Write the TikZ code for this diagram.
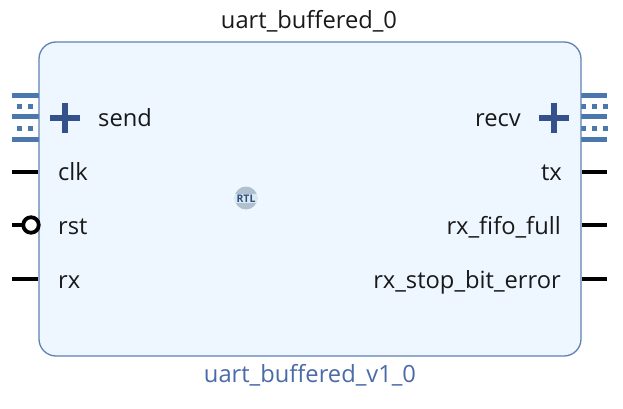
\documentclass[tikz,border=0pt]{standalone}
\usepackage{fontspec}
\setmainfont{Open Sans}
\definecolor{boxfill}{HTML}{EEF7FF}
\definecolor{boxline}{HTML}{5F82B4}
\definecolor{ifblue}{HTML}{4A77AC}
\definecolor{plusblue}{HTML}{34518C}
\definecolor{txtblue}{HTML}{4A6BA8}
\definecolor{rtlgrey}{HTML}{AFC0CF}
\definecolor{rtlband}{HTML}{DCE9F2}
\definecolor{rtltext}{HTML}{2F4F7F}
\tikzset{
  pinline/.style={line width=4.8pt,black},
  portlabel/.style={font=\fontsize{23.7pt}{26pt}\selectfont,text=black!90,inner sep=0pt},
  plusbar/.style={line width=5.6pt,plusblue},
}
\newcommand{\ifbars}[2]{%
  \foreach \yy in {93,114,137}{\fill[ifblue] (#1,\yy+0.3) rectangle (#2,\yy+5.2);}
}
\begin{document}
\begin{tikzpicture}[x=1pt,y=-1pt]
\useasboundingbox (0,0) rectangle (623,409);
\fill[white] (0,0) rectangle (623,409);
\node[portlabel] (title) at (309,21) {uart\_buffered\_0};
\node[portlabel,text=txtblue] (sub) at (310,375.5) {uart\_buffered\_v1\_0};
\ifbars{12}{39}
\foreach \yy in {104,126}\foreach \xx in {17,28}{\fill[ifblue] (\xx,\yy) rectangle (\xx+5,\yy+5);}
\ifbars{581}{607}
\foreach \yy in {104,126}\foreach \xx in {581,592,603}{\fill[ifblue] (\xx,\yy) rectangle (\xx+5,\yy+5);}
\coordinate (clkE) at (12,172); \coordinate (rstE) at (12,225); \coordinate (rxE) at (12,279);
\coordinate (txE) at (607,172); \coordinate (fullE) at (607,225); \coordinate (errE) at (607,279);
\node[draw=boxline,fill=boxfill,line width=1.3pt,rounded corners=17pt,minimum width=542pt,minimum height=314pt,inner sep=0pt] (block) at (310,199) {};
\coordinate (clkB) at (block.west |- clkE); \coordinate (rstB) at (24,225); \coordinate (rxB) at (block.west |- rxE);
\coordinate (txB) at (block.east |- txE); \coordinate (fullB) at (block.east |- fullE); \coordinate (errB) at (block.east |- errE);
\draw[pinline] (clkE) -- (clkB);
\draw[pinline] (rstE) -- (rstB);
\draw[pinline] (rxE) -- (rxB);
\draw[pinline] (txE) -- (txB);
\draw[pinline] (fullE) -- (fullB);
\draw[pinline] (errE) -- (errB);
\node[circle,draw=black,fill=white,line width=3.8pt,minimum size=15.5pt,inner sep=0pt] (rstc) at (31,225) {};
\draw[plusbar] (50,118) -- (80,118); \draw[plusbar] (65,103) -- (65,133);
\draw[plusbar] (539,118) -- (569,118); \draw[plusbar] (554,103) -- (554,133);
\node[portlabel,anchor=base west] (send) at (98,126) {send};
\node[portlabel,anchor=base west] (clk) at (58,180.5) {clk};
\node[portlabel,anchor=base west] (rst) at (58,234.5) {rst};
\node[portlabel,anchor=base west] (rx) at (58,288.5) {rx};
\node[portlabel,anchor=base east] (recv) at (521,126) {recv};
\node[portlabel,anchor=base east] (tx) at (562,180.5) {tx};
\node[portlabel,anchor=base east] (full) at (561,234.5) {rx\_fifo\_full};
\node[portlabel,anchor=base east] (err) at (561,288.5) {rx\_stop\_bit\_error};
\fill[rtlgrey] (246,198) circle (11.5);
\begin{scope}
\clip (246,198) circle (11.5);
\fill[rtlband] (234,193.5) rectangle (258,203);
\end{scope}
\node[font=\fontsize{10.5pt}{11pt}\selectfont\bfseries,text=rtltext,inner sep=0pt] (rtl) at (246,198.3) {RTL};
\end{tikzpicture}
\end{document}
